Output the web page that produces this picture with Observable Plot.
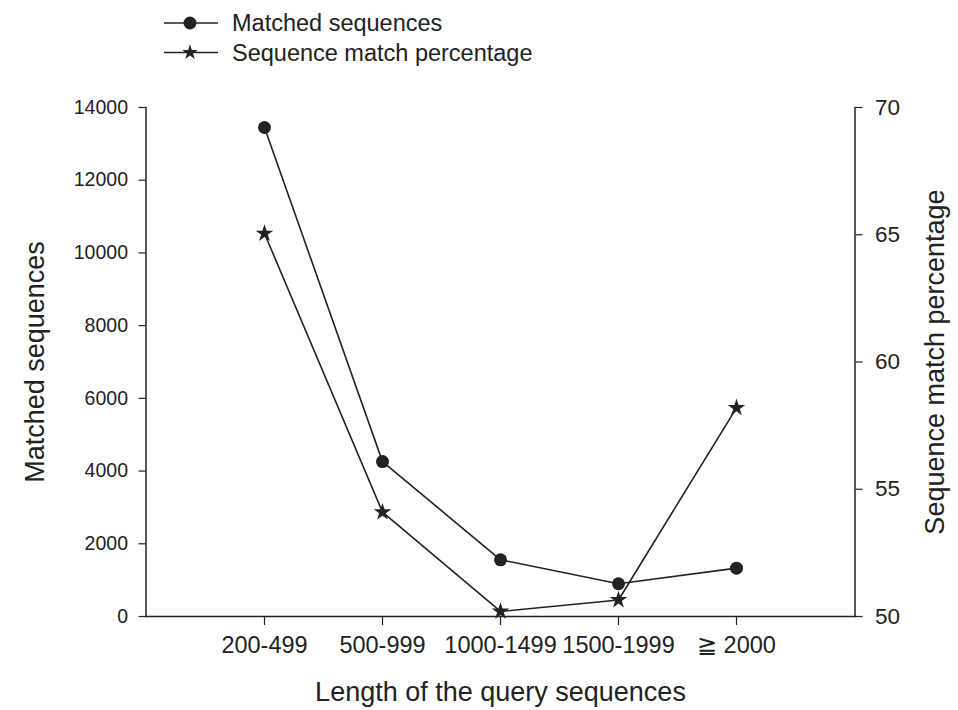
<!DOCTYPE html>
<html>
<head>
<meta charset="utf-8">
<script src="https://cdn.jsdelivr.net/npm/d3@7"></script>
<script src="https://cdn.jsdelivr.net/npm/@observablehq/plot@0.6"></script>
<style>
  html, body { margin: 0; padding: 0; background: #fff; }
  body { width: 958px; height: 710px; overflow: hidden; font-family: "Liberation Sans", Arial, sans-serif; color: #222; }
  #legend { height: 80px; }
  #legend svg { display: block; }
</style>
</head>
<body>
<div id="legend"></div>
<div id="chart"></div>
<script>
// ---- data ----
const categories = ["200-499", "500-999", "1000-1499", "1500-1999", "\u2267 2000"];
const matchedSequences = [13450, 4260, 1560, 900, 1330];
const matchPercentage = [65.05, 54.1, 50.2, 50.65, 58.2];
const leftTicks = [0, 2000, 4000, 6000, 8000, 10000, 12000, 14000];
const rightTicks = [50, 55, 60, 65, 70];
const seriesNames = ["Matched sequences", "Sequence match percentage"];
const xTitle = "Length of the query sequences";

// map right-axis percentage into left-axis units
const leftMax = 14000, pctMin = 50, pctMax = 70;
const toY = p => (p - pctMin) / (pctMax - pctMin) * leftMax;
const fromY = v => pctMin + v / leftMax * (pctMax - pctMin);

const rows = categories.map((c, i) => ({cat: c, matched: matchedSequences[i], pct: matchPercentage[i]}));

const ink = "#222";
const font = "'Liberation Sans', Arial, sans-serif";

// ---- legend ----
const lg = d3.select("#legend").append("svg").attr("width", 958).attr("height", 80);
const legendItems = [
  {name: seriesNames[0], sym: d3.symbolCircle, size: Math.PI * 6.5 * 6.5},
  {name: seriesNames[1], sym: d3.symbolStar, size: 75}
];
legendItems.forEach((it, i) => {
  const y = 23 + i * 29.5;
  const g = lg.append("g").attr("transform", `translate(0,${y})`);
  g.append("line").attr("x1", 164).attr("x2", 218).attr("y1", 0).attr("y2", 0).attr("stroke", ink).attr("stroke-width", 1.6);
  g.append("path").attr("d", d3.symbol(it.sym, it.size)()).attr("transform", "translate(190,0)").attr("fill", ink);
  g.append("text").attr("x", 232).attr("y", 0).attr("dy", "0.35em")
    .attr("font-size", 23.5).attr("font-family", font).attr("fill", ink).text(it.name);
});

// ---- chart ----
const chart = Plot.plot({
  width: 958,
  height: 630,
  marginTop: 27,
  marginBottom: 94,
  marginLeft: 145.5,
  marginRight: 103.5,
  style: {fontFamily: font, fontSize: "21px", color: ink, background: "white", overflow: "visible"},
  x: {type: "point", domain: categories, padding: 1},
  y: {domain: [0, leftMax]},
  marks: [
    Plot.frame({anchor: "left", stroke: ink, strokeWidth: 1.5}),
    Plot.frame({anchor: "right", stroke: ink, strokeWidth: 1.5}),
    Plot.frame({anchor: "bottom", stroke: ink, strokeWidth: 1.5}),
    Plot.axisY(leftTicks, {anchor: "left", tickSize: 7, tickPadding: 11, strokeWidth: 1.2, fontSize: 19.5,
      tickFormat: d3.format("d"), label: null}),
    Plot.axisY(rightTicks.map(toY), {anchor: "right", tickSize: 7, tickPadding: 13, strokeWidth: 1.2, fontSize: 22.5,
      tickFormat: v => d3.format("d")(Math.round(fromY(v))), label: null}),
    Plot.axisX({anchor: "bottom", tickSize: 9, tickPadding: 11, strokeWidth: 1.2, fontSize: 23.5, label: null}),
    Plot.text([seriesNames[0]], {text: d => d, frameAnchor: "left", textAnchor: "middle", dx: -110.5, rotate: -90, fontSize: 27, fill: ink}),
    Plot.text([seriesNames[1]], {text: d => d, frameAnchor: "right", textAnchor: "middle", dx: 80.5, rotate: -90, fontSize: 27, fill: ink}),
    Plot.text([xTitle], {text: d => d, frameAnchor: "bottom", dy: 84, fontSize: 27, fill: ink}),
    Plot.line(rows, {x: "cat", y: "matched", stroke: ink, strokeWidth: 1.6}),
    Plot.dot(rows, {x: "cat", y: "matched", r: 6.5, symbol: "circle", fill: ink, stroke: null}),
    Plot.line(rows, {x: "cat", y: d => toY(d.pct), stroke: ink, strokeWidth: 1.6}),
    Plot.dot(rows, {x: "cat", y: d => toY(d.pct), r: 5.5, symbol: "star", fill: ink, stroke: null})
  ]
});
document.getElementById("chart").append(chart);
</script>
</body>
</html>
